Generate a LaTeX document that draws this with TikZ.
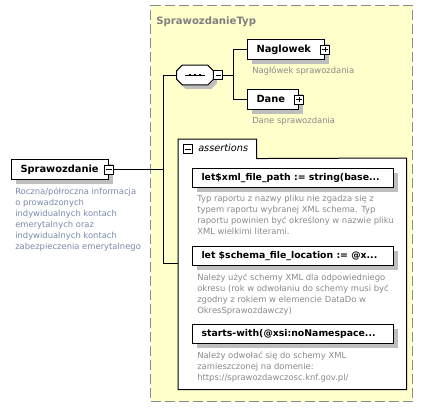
\documentclass[tikz,border=0pt]{standalone}
\usepackage{fontspec}
\setmainfont{DejaVu Sans}
\usetikzlibrary{shadows}
\definecolor{typfill}{HTML}{FFFFCC}
\definecolor{typline}{HTML}{8C8C8C}
\definecolor{shade}{HTML}{BEBEBE}
\definecolor{descgray}{HTML}{8A8A8A}
\definecolor{descblue}{HTML}{7A8AAC}
\definecolor{titlegray}{HTML}{808080}
\newcommand{\boxtext}[2]{\makebox[#1][l]{\hspace{6.75pt}#2}}
\tikzset{
  conn/.style={draw=black, line width=0.75pt},
  typbox/.style={draw=typline, fill=typfill, line width=0.75pt, dash pattern=on 7.5pt off 3pt},
  typtitle/.style={text=titlegray, inner sep=0pt, anchor=base west, font=\fontsize{7.6}{9}\selectfont\bfseries},
  elembox/.style={draw=black, fill=white, line width=0.75pt, inner sep=0pt, anchor=north west,
    minimum height=15pt, text height=5.4pt, text depth=1.6pt,
    font=\fontsize{7.4}{8}\selectfont\bfseries,
    general shadow={fill=shade, shadow xshift=3pt, shadow yshift=-3pt}},
  assertbox/.style={elembox, minimum height=14.25pt, font=\fontsize{7}{8}\selectfont\bfseries},
  iconbase/.style={draw=black, fill=white, line width=0.6pt, inner sep=0pt, minimum size=6.75pt},
  minusicon/.style={iconbase, path picture={\draw[line width=0.6pt] ([xshift=1.4pt]path picture bounding box.west) -- ([xshift=-1.4pt]path picture bounding box.east);}},
  plusicon/.style={iconbase, path picture={\draw[line width=0.6pt] ([xshift=1.4pt]path picture bounding box.west) -- ([xshift=-1.4pt]path picture bounding box.east);
      \draw[line width=0.6pt] ([yshift=-1.4pt]path picture bounding box.north) -- ([yshift=1.4pt]path picture bounding box.south);}},
  desc/.style={text=descgray, inner sep=0pt, anchor=north west, align=left, font=\fontsize{6.3}{8.25}\selectfont},
  seqshape/.style={draw=black, fill=white, line width=0.75pt},
  seqshadow/.style={fill=shade},
  seqdot/.style={fill=black},
  frameshape/.style={draw=black, fill=white, line width=0.75pt},
  ghost/.style={inner sep=0pt, anchor=north west},
  tablabel/.style={inner sep=0pt, anchor=base west, font=\fontsize{7.3}{9}\selectfont\itshape}
}
\newcommand{\octpath}[1]{([xshift=4pt]#1.north west) -- ([xshift=-4pt]#1.north east) -- ([yshift=-4pt]#1.north east) -- ([yshift=4pt]#1.south east) -- ([xshift=-4pt]#1.south east) -- ([xshift=4pt]#1.south west) -- ([yshift=4pt]#1.south west) -- ([yshift=-4pt]#1.north west) -- cycle}
\begin{document}
\begin{tikzpicture}[x=0.75pt,y=-0.75pt]
\useasboundingbox (0,0) rectangle (429,419);
% complex type frame
\node[typbox, ghost, minimum width=196.5pt, minimum height=297pt] (typ) at (150,5) {};
\node[typtitle] (typname) at (156,24.5) {SprawozdanieTyp};

% root element
\node[elembox] (spr) at (11,159) {\boxtext{72.75pt}{Sprawozdanie}};
\node[minusicon] (sprmin) at (spr.east) {};
\node[desc, text=descblue] (sprdesc) at (15,188) {Roczna/półroczna informacja\\o prowadzonych\\indywidualnych kontach\\emerytalnych oraz\\indywidualnych kontach\\zabezpieczenia emerytalnego};

% sequence compositor
\node[ghost, anchor=center, minimum width=27pt, minimum height=14.25pt] (seq) at (195,75) {};
\node[ghost, anchor=center, minimum width=27pt, minimum height=14.25pt] (seqsh) at (198.5,79) {};
\fill[seqshadow] \octpath{seqsh};
\draw[seqshape] \octpath{seq};
\draw[line width=0.75pt] ([xshift=-7.5pt]seq.center) -- ([xshift=7.5pt]seq.center);
\foreach \d in {-3.75,0,3.75}
  \fill[seqdot] ([xshift=\d pt]seq.center) +(-1.1pt,-1.1pt) rectangle +(1.1pt,1.1pt);
\node[minusicon, anchor=west] (seqmin) at (seq.east) {};

% child elements
\node[elembox] (nag) at (247,39) {\boxtext{57.75pt}{Naglowek}};
\node[plusicon] (nagplus) at (nag.east) {};
\node[desc] (nagdesc) at (252,67) {Nagłówek sprawozdania};
\node[elembox] (dane) at (247,89) {\boxtext{38.25pt}{Dane}};
\node[plusicon] (daneplus) at (dane.east) {};
\node[desc] (danedesc) at (252,117) {Dane sprawozdania};

% assertions container
\node[ghost, minimum width=58.5pt, minimum height=14.25pt] (astab) at (178,139) {};
\node[ghost, minimum width=171pt, minimum height=173.25pt] (asbox) at (178,158) {};
\draw[frameshape] (astab.north west) -- (astab.north east) -- (astab.south east) -- (asbox.north east)
  -- (asbox.south east) -- (asbox.south west) -- cycle;
\node[minusicon] (asmin) at (188,149) {};
\node[tablabel] (aslabel) at (198,151.5) {assertions};

\node[assertbox] (a1) at (192,168) {\boxtext{150.75pt}{let\$xml\_file\_path := string(base...}};
\node[desc] (a1desc) at (197,195) {Typ raportu z nazwy pliku nie zgadza się z\\typem raportu wybranej XML schema. Typ\\raportu powinien być określony w nazwie pliku\\XML wielkimi literami.};
\node[assertbox] (a2) at (192,246) {\boxtext{150.75pt}{let \$schema\_file\_location := @x...}};
\node[desc] (a2desc) at (197,274) {Należy użyć schemy XML dla odpowiedniego\\okresu (rok w odwołaniu do schemy musi być\\zgodny z rokiem w elemencie DataDo w\\OkresSprawozdawczy)};
\node[assertbox] (a3) at (192,324) {\boxtext{150.75pt}{starts-with(@xsi:noNamespace...}};
\node[desc] (a3desc) at (197,352) {Należy odwołać się do schemy XML\\zamieszczonej na domenie:\\https://sprawozdawczosc.knf.gov.pl/};

% connectors
\coordinate (bustop) at (163,75);
\coordinate (busbot) at (163,263);
\coordinate (fork) at (233,75);
\draw[conn] (sprmin.east) -- (sprmin.east -| bustop);
\draw[conn] (seq.west) -- (bustop) -- (busbot) -- (busbot -| asbox.west);
\draw[conn] (seqmin.east) -- (fork);
\draw[conn] (nag.west) -- (nag.west -| fork) -- (dane.west -| fork) -- (dane.west);
\end{tikzpicture}
\end{document}
